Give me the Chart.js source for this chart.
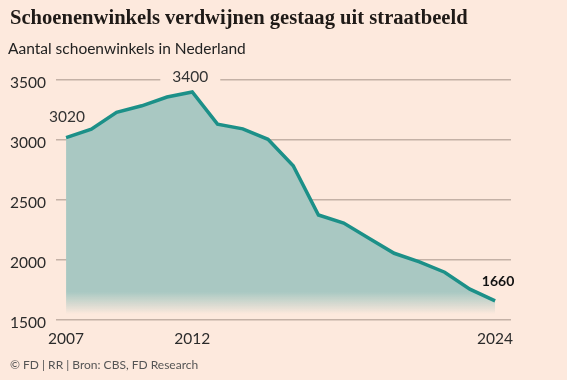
<!DOCTYPE html>
<html>
<head>
<meta charset="utf-8">
<script src="https://cdn.jsdelivr.net/npm/chart.js@4.4.1/dist/chart.umd.min.js"></script>
<style>
  html, body { margin:0; padding:0; background:#fde9dd; }
  #wrap { position:relative; width:567px; height:380px; overflow:hidden; background:#fde9dd; }
  #c { position:absolute; left:0; top:0; }
  .title { position:absolute; left:10px; top:6px; font-family:"Liberation Serif", serif; font-weight:bold; font-size:20.6px; color:#1f1a17; white-space:nowrap; }
  .sub { position:absolute; left:8px; top:39px; font-family:Lato, sans-serif; font-size:15.5px; color:#222; white-space:nowrap; }
  .foot { position:absolute; left:10px; top:357px; font-family:Lato, sans-serif; font-size:12px; color:#555; white-space:nowrap; }
</style>
</head>
<body>
<div id="wrap">
  <canvas id="c" width="567" height="380"></canvas>
  <div class="title">Schoenenwinkels verdwijnen gestaag uit straatbeeld</div>
  <div class="sub">Aantal schoenwinkels in Nederland</div>
  <div class="foot">© FD | RR | Bron: CBS, FD Research</div>
</div>
<script>
const years = [2007,2008,2009,2010,2011,2012,2013,2014,2015,2016,2017,2018,2019,2020,2021,2022,2023,2024];
const shops = [3020,3090,3230,3285,3358,3400,3132,3093,3006,2786,2375,2308,2181,2056,1984,1898,1757,1660];
const xTicks = [2007, 2012, 2024];
const yTicks = [1500, 2000, 2500, 3000, 3500];
const callouts = [
  {year: 2007, value: 3020, text: "3020", bold: false, dy: -21, dx: 1, box: false},
  {year: 2012, value: 3400, text: "3400", bold: false, dy: -15, dx: -2, box: true},
  {year: 2024, value: 1660, text: "1660", bold: true, dy: -19, dx: 3, box: false}
];

const BG = '#fde9dd';
const calloutPlugin = {
  id: 'callouts',
  afterDatasetsDraw(chart) {
    const ctx = chart.ctx, xs = chart.scales.x, ys = chart.scales.y;
    ctx.save();
    ctx.textAlign = 'center';
    ctx.textBaseline = 'middle';
    callouts.forEach(c => {
      const x = xs.getPixelForValue(c.year) + c.dx;
      const y = ys.getPixelForValue(c.value) + c.dy;
      ctx.font = (c.bold ? 'bold 14px' : '15.5px') + ' Lato, sans-serif';
      const w = ctx.measureText(c.text).width;
      if (c.box) {
        ctx.fillStyle = BG;
        ctx.fillRect(x - w/2 - 12, y - 9, w + 24, 18);
      }
      ctx.fillStyle = c.bold ? '#111' : '#333';
      ctx.fillText(c.text, x, y);
    });
    ctx.restore();
  }
};

new Chart(document.getElementById('c'), {
  type: 'line',
  data: {
    datasets: [{
      data: years.map((y, i) => ({x: y, y: shops[i]})),
      borderColor: '#1c9088',
      borderWidth: 3.5,
      pointRadius: 0,
      tension: 0,
      fill: 'origin',
      backgroundColor: (ctx) => {
        const ca = ctx.chart.chartArea;
        if (!ca) return 'rgba(169,200,194,1)';
        const g = ctx.chart.ctx.createLinearGradient(0, ca.bottom - 28, 0, ca.bottom - 6);
        g.addColorStop(0, 'rgba(169,200,194,1)');
        g.addColorStop(1, 'rgba(169,200,194,0)');
        return g;
      }
    }]
  },
  options: {
    responsive: false,
    animation: false,
    events: [],
    layout: { padding: { left: 0, right: 56, top: 80, bottom: 30 } },
    plugins: { legend: { display: false }, tooltip: { enabled: false } },
    scales: {
      x: {
        type: 'linear',
        min: 2006.6,
        max: 2024.63,
        grid: { display: false, drawTicks: false },
        border: { display: false },
        afterBuildTicks: (s) => { s.ticks = xTicks.map(v => ({value: v})); },
        afterFit: (s) => { s.height = 30; },
        ticks: {
          autoSkip: false,
          maxRotation: 0,
          padding: 10,
          color: '#2b2b2b',
          font: { family: 'Lato, sans-serif', size: 15.5 },
          callback: (v) => String(v)
        }
      },
      y: {
        min: 1500,
        max: 3500,
        afterBuildTicks: (s) => { s.ticks = yTicks.map(v => ({value: v})); },
        afterFit: (s) => { s.width = 56; },
        grid: { color: '#c4b1a6', lineWidth: 1.5, drawTicks: false },
        border: { display: false },
        ticks: {
          padding: 10,
          labelOffset: 3,
          color: '#2b2b2b',
          font: { family: 'Lato, sans-serif', size: 15.5 },
          callback: (v) => String(v)
        }
      }
    }
  },
  plugins: [calloutPlugin]
});
</script>
</body>
</html>
